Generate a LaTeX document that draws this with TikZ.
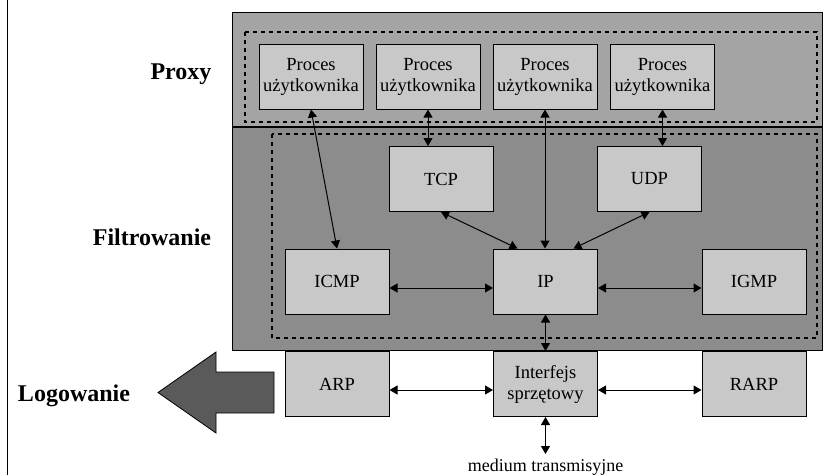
\documentclass[tikz,border=0pt]{standalone}
\usepackage{fontspec}
\setmainfont{Liberation Serif}
\usetikzlibrary{arrows.meta}
\usetikzlibrary{positioning}

\definecolor{proxygray}{HTML}{A4A4A4}
\definecolor{filtergray}{HTML}{8C8C8C}
\definecolor{boxgray}{HTML}{C8C8C8}
\definecolor{arrowgray}{HTML}{5A5A5A}

\begin{document}
\begin{tikzpicture}[
    x=1pt, y=-1pt,
    layer/.style={draw, line width=0.8pt},
    zone/.style={draw, dashed, line width=1.2pt, dash pattern=on 4pt off 4pt},
    block/.style={draw, fill=boxgray, line width=1pt, minimum width=104pt, minimum height=65pt,
                  inner sep=0pt, align=center, font=\fontsize{18.5}{21}\selectfont},
    label/.style={anchor=base, font=\fontsize{24}{28}\selectfont\bfseries},
    link/.style={line width=1pt, {Triangle[length=8pt,width=9pt]}-{Triangle[length=8pt,width=9pt]}}
]
    \useasboundingbox (0,0) rectangle (823,475);
    \draw[line width=0.6pt] (7,0) -- (7,475);

    % warstwy
    \filldraw[layer, fill=proxygray] (232,12) rectangle (822,127);
    \filldraw[layer, fill=filtergray] (232,127) rectangle (822,350);
    \draw[line width=2pt] (232,127) -- (822,127);
    \draw[zone] (245,32) rectangle (817,122);
    \draw[zone] (272,134) rectangle (817,338);

    \node[label] (proxy) at (181,79) {Proxy};
    \node[label] (filtr) at (152,245) {Filtrowanie};
    \node[label] (logi) at (74,401) {Logowanie};

    % strzalka logowania
    \filldraw[fill=arrowgray, line width=0.8pt] (274,372) -- (216,372) -- (216,352) -- (158,392.5)
        -- (216,433) -- (216,413) -- (274,413) -- cycle;

    % procesy uzytkownika
    \node[block] (p1) at (311,76.5) {Proces\\użytkownika};
    \node[block] (p2) at (428,76.5) {Proces\\użytkownika};
    \node[block] (p3) at (545,76.5) {Proces\\użytkownika};
    \node[block] (p4) at (662.5,76.5) {Proces\\użytkownika};

    % stos protokolow
    \node[block] (tcp) at (441,179) {TCP};
    \node[block] (udp) at (649.5,179) {UDP};
    \node[block] (icmp) at (337,281.5) {ICMP};
    \node[block] (ip) at (545.5,281.5) {IP};
    \node[block] (igmp) at (754,281.5) {IGMP};
    \node[block] (arp) at (337,384) {ARP};
    \node[block] (iface) at (545.5,384) {Interfejs\\sprzętowy};
    \node[block] (rarp) at (754,384) {RARP};

    \coordinate (medium) at (545.5,454);
    \node[font=\fontsize{18}{21}\selectfont, anchor=base] (mediumtxt) at (545.5,471) {medium transmisyjne};

    \draw[link] (p1.south) -- (icmp.north);
    \draw[link] (p2.south) -- (p2.south |- tcp.north);
    \draw[link] (p3.south) -- (p3.south |- ip.north);
    \draw[link] (p4.south) -- (p4.south |- udp.north);
    \draw[link] (tcp.south) -- ([xshift=-28pt]ip.north);
    \draw[link] (udp.south) -- ([xshift=28pt]ip.north);
    \draw[link] ([yshift=-6.5pt]icmp.east) -- ([yshift=-6.5pt]ip.west);
    \draw[link] ([yshift=-6.5pt]ip.east) -- ([yshift=-6.5pt]igmp.west);
    \draw[link] (ip.south) -- (iface.north);
    \draw[link] ([yshift=-6pt]arp.east) -- ([yshift=-6pt]iface.west);
    \draw[link] ([yshift=-6pt]iface.east) -- ([yshift=-6pt]rarp.west);
    \draw[link] (iface.south) -- (medium);
\end{tikzpicture}
\end{document}
